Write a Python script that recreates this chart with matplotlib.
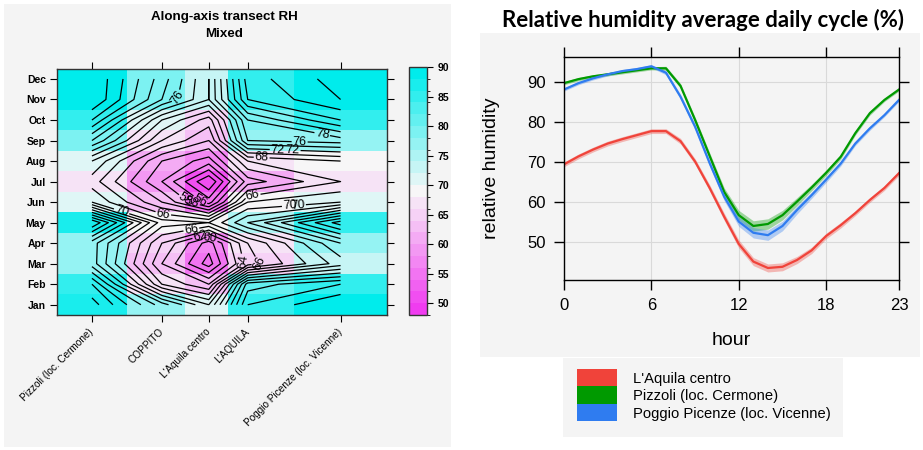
import numpy as np
import matplotlib
matplotlib.use("Agg")
import matplotlib.pyplot as plt
from matplotlib.colors import LinearSegmentedColormap, BoundaryNorm
from matplotlib.patches import Rectangle, Patch

plt.rcParams['font.family'] = ['Liberation Sans', 'DejaVu Sans']

# ---------------- dati pannello sinistro (transetto RH mensile) ----------------
stations = ["Pizzoli (loc. Cermone)", "COPPITO", "L'Aquila centro", "L'AQUILA",
            "Poggio Picenze (loc. Vicenne)"]
station_km = [0.0, 7.0, 11.7, 15.6, 24.9]
months = ["Jan", "Feb", "Mar", "Apr", "May", "Jun",
          "Jul", "Aug", "Sep", "Oct", "Nov", "Dec"]
# righe = mesi (Jan..Dec), colonne = stazioni
rh_transect = [
    [87, 77, 70, 84, 88],
    [84, 66, 62, 81, 84],
    [77, 62, 55, 65, 73],
    [77, 64, 57, 66, 76],
    [86, 69, 68, 74, 85],
    [70, 62, 55, 68, 70],
    [67, 58, 50, 61, 66],
    [70, 60, 57, 66, 68],
    [78, 66, 62, 76, 77],
    [84, 70, 65, 78, 84],
    [88, 78, 72, 84, 88],
    [88, 79, 72, 85, 89],
]
cbar_ticks = [50, 55, 60, 65, 70, 75, 80, 85, 90]

# ---------------- dati pannello destro (ciclo giornaliero) ----------------
hours = list(range(24))
rh_aquila = [69.5, 71.5, 73.2, 74.7, 75.8, 76.8, 77.8, 77.8, 75.3, 70.2, 63.6, 56.4,
             49.6, 45.2, 43.6, 43.9, 45.6, 48.0, 51.6, 54.3, 57.3, 60.6, 63.6, 67.3]
rh_pizzoli = [89.8, 90.8, 91.5, 92.0, 92.5, 93.0, 93.5, 93.5, 89.1, 80.6, 71.6, 62.6,
              56.8, 54.1, 54.6, 56.8, 60.2, 63.7, 67.4, 71.4, 77.3, 82.3, 85.6, 88.2]
rh_poggio = [88.2, 89.8, 91.0, 92.0, 92.8, 93.3, 94.0, 92.4, 86.4, 78.9, 69.8, 61.4,
             55.2, 52.4, 51.8, 54.1, 58.1, 61.8, 65.7, 69.7, 74.7, 78.5, 81.8, 85.6]
ci_aquila = [0.6, 0.6, 0.6, 0.6, 0.6, 0.6, 0.6, 0.6, 0.7, 0.7, 0.8, 0.9,
             1.0, 1.0, 1.0, 1.0, 0.9, 0.8, 0.7, 0.7, 0.6, 0.6, 0.6, 0.6]
ci_pizzoli = [0.4, 0.4, 0.4, 0.4, 0.4, 0.4, 0.4, 0.5, 0.6, 0.7, 0.8, 1.0,
              1.2, 1.3, 1.3, 1.2, 1.0, 0.8, 0.7, 0.6, 0.5, 0.5, 0.4, 0.4]
ci_poggio = [0.4, 0.4, 0.4, 0.4, 0.4, 0.4, 0.4, 0.5, 0.6, 0.7, 0.8, 1.0,
             1.2, 1.3, 1.3, 1.2, 1.0, 0.8, 0.7, 0.6, 0.5, 0.5, 0.4, 0.4]
series_names = ["L'Aquila centro", "Pizzoli (loc. Cermone)", "Poggio Picenze (loc. Vicenne)"]
series_cols = ["#F0433A", "#009A00", "#2F7CF0"]

W, H = 923, 450
BG = "#f4f4f4"


def fbox(x0, y0, x1, y1):
    # pixel (alto-sinistra) -> frazione figura
    return [x0 / W, 1 - y1 / H, (x1 - x0) / W, (y1 - y0) / H]


fig = plt.figure(figsize=(W / 100, H / 100), dpi=100)
fig.patch.set_facecolor("white")
for b in [(4, 4, 451, 447), (480, 33, 920, 357), (563, 358, 843, 437)]:
    r = fbox(*b)
    fig.add_artist(Rectangle((r[0], r[1]), r[2], r[3], transform=fig.transFigure,
                             facecolor=BG, edgecolor="none", zorder=-5))

# ================= pannello sinistro =================
ax1 = fig.add_axes(fbox(57, 68.7, 387, 315))
xk = np.array(station_km)
mid = (xk[1:] + xk[:-1]) / 2
x_edges = np.concatenate([[xk[0] - (mid[0] - xk[0])], mid, [xk[-1] + (xk[-1] - mid[-1])]])
y_idx = np.arange(1, 13)
y_edges = np.arange(0.5, 13.0, 1.0)
Z = np.array(rh_transect, dtype=float)

levels = np.arange(48, 92, 2)
cmap = LinearSegmentedColormap.from_list("cm", [(0, "#F03CF0"), (0.5, "#F7F7F7"), (1, "#00ECEC")])
norm = BoundaryNorm(levels, cmap.N)
mesh = ax1.pcolormesh(x_edges, y_edges, Z, cmap=cmap, norm=norm, shading="flat")

cs = ax1.contour(xk, y_idx, Z, levels=levels, colors="black", linewidths=0.9)
lab_pos = [(8.6, 11.1), (3.0, 5.6), (7.1, 5.3), (9.3, 6.1), (10.1, 6.1), (11.0, 6.2),
           (16.1, 6.3), (19.8, 6.0), (20.3, 5.8), (17.0, 8.2), (18.6, 8.45), (20.1, 8.55),
           (20.8, 8.95), (23.0, 9.15), (10.0, 4.55), (10.8, 4.4), (11.8, 4.2),
           (15.5, 3.15), (16.9, 3.05)]
ax1.clabel(cs, fmt="%d", fontsize=9, inline=True, inline_spacing=1, manual=lab_pos)

ax1.set_xlim(x_edges[0], x_edges[-1])
ax1.set_ylim(0.5, 12.5)
ax1.set_xticks(xk)
ax1.set_xticklabels(stations, rotation=45, ha="right", va="center",
                    rotation_mode="anchor", fontsize=7.2)
ax1.set_yticks(y_idx)
ax1.set_yticklabels(months, fontsize=7.5, fontweight="bold")
ax1.tick_params(direction="out", length=5, width=0.8, top=True, right=True, pad=3)
ax1.tick_params(axis="x", pad=6)
for s in ax1.spines.values():
    s.set_linewidth(1.0)
    s.set_color("#333333")

cax = fig.add_axes(fbox(409, 67, 427, 315))
cb = fig.colorbar(mesh, cax=cax, ticks=cbar_ticks)
cb.ax.tick_params(direction="out", length=4, width=0.8, labelsize=7.5)
for t in cb.ax.get_yticklabels():
    t.set_fontweight("bold")
cb.outline.set_linewidth(1.0)
cb.outline.set_edgecolor("#333333")

fig.text(224 / W, 1 - 17 / H, "Along-axis transect RH", ha="center", va="center",
         fontsize=9.6, fontweight="bold")
fig.text(224 / W, 1 - 34 / H, "Mixed", ha="center", va="center",
         fontsize=9.6, fontweight="bold")

# ================= pannello destro =================
ax2 = fig.add_axes(fbox(564, 57.3, 899, 280))
ax2.set_facecolor(BG)
hrs = np.array(hours)
for y, ci, c in zip([rh_aquila, rh_pizzoli, rh_poggio], [ci_aquila, ci_pizzoli, ci_poggio], series_cols):
    y = np.array(y)
    ci = np.array(ci)
    ax2.fill_between(hrs, y - ci, y + ci, color=c, alpha=0.35, lw=0)
    ax2.plot(hrs, y, color=c, lw=1.6)

ax2.set_xlim(0, 23)
ax2.set_ylim(40.6, 96.25)
ax2.set_xticks([0, 6, 12, 18, 23])
ax2.set_yticks([50, 60, 70, 80, 90])
ax2.grid(color="#d9d9d9", lw=0.8)
ax2.set_axisbelow(True)
ax2.tick_params(direction="out", length=7, width=1, top=True, right=True,
                labelsize=12, pad=6)
for s in ax2.spines.values():
    s.set_linewidth(1.0)
ax2.set_ylabel("relative humidity", fontsize=14)
ax2.yaxis.set_label_coords(-0.19, 0.5)
ax2.set_xlabel("hour", fontsize=14, va="top")
ax2.xaxis.set_label_coords(0.5, -0.235)

fig.text(703 / W, 1 - 20 / H, "Relative humidity average daily cycle (%)",
         ha="center", va="center", fontsize=16, fontweight="bold", family="Lato")

handles = [Patch(facecolor=c, edgecolor="none") for c in series_cols]
fig.legend(handles, series_names, loc="upper left", bbox_to_anchor=(577 / W, 1 - 369 / H),
           frameon=False, fontsize=10.6, handlelength=2.7, handleheight=1.45,
           labelspacing=0.0, handletextpad=1.1, borderpad=0, borderaxespad=0)

fig.savefig("out.png", dpi=100, facecolor="white")
